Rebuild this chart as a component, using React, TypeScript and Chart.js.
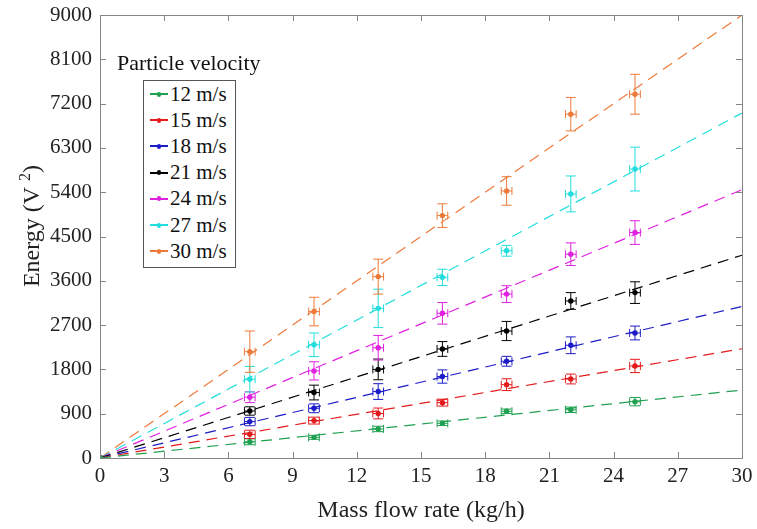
import React, { useEffect, useRef } from "react";
import { Chart, registerables } from "chart.js";

Chart.register(...registerables);

const massFlow = [7, 10, 13, 16, 19, 22, 25];
const velocities = ["12 m/s", "15 m/s", "18 m/s", "21 m/s", "24 m/s", "27 m/s", "30 m/s"];
const colors = ["#1fa050", "#e41a1c", "#1c1cc8", "#000000", "#e020e0", "#22dddd", "#ee7a3a"];

const e12 = [330, 420, 590, 705, 950, 980, 1145];
const e15 = [480, 760, 905, 1125, 1490, 1605, 1870];
const e18 = [740, 1010, 1350, 1655, 1965, 2290, 2540];
const e21 = [955, 1330, 1800, 2215, 2580, 3190, 3360];
const e24 = [1235, 1770, 2240, 2940, 3330, 4140, 4580];
const e27 = [1600, 2300, 3040, 3670, 4210, 5365, 5870];
const e30 = [2160, 2975, 3685, 4925, 5425, 6985, 7390];

const err12 = [60, 40, 55, 45, 45, 55, 85];
const err15 = [85, 70, 110, 70, 120, 100, 135];
const err18 = [85, 90, 160, 135, 100, 170, 140];
const err21 = [85, 150, 210, 150, 195, 170, 220];
const err24 = [110, 185, 250, 220, 170, 230, 240];
const err27 = [260, 240, 390, 165, 110, 365, 445];
const err30 = [420, 290, 355, 240, 290, 340, 405];

const xErr = 0.25;

const fitX = [0, 30];
const fitEnd = [1380, 2220, 3080, 4120, 5450, 7010, 9000];

const xTicks = [0, 3, 6, 9, 12, 15, 18, 21, 24, 27, 30];
const yTicks = [0, 900, 1800, 2700, 3600, 4500, 5400, 6300, 7200, 8100, 9000];

const yTitleMain = "Energy (V";
const yTitleSup = "2";
const yTitleEnd = ")";
const xTitle = "Mass flow rate (kg/h)";
const legendTitle = "Particle velocity";

const energies = [e12, e15, e18, e21, e24, e27, e30];
const errors = [err12, err15, err18, err21, err24, err27, err30];

const FONT = "'Liberation Serif', 'Times New Roman', serif";
const TEXT = "#222";

const errorBarPlugin = {
  id: "errorBars",
  afterDatasetsDraw(chart: any) {
    const ctx = chart.ctx;
    const xs = chart.scales.x;
    const ys = chart.scales.y;
    chart.data.datasets.forEach((ds: any, i: number) => {
      if (!ds.errY) return;
      ctx.save();
      ctx.strokeStyle = ds.borderColor;
      ctx.lineWidth = 1;
      ds.data.forEach((p: any, j: number) => {
        const e = ds.errY[j];
        const px = xs.getPixelForValue(p.x);
        const py = ys.getPixelForValue(p.y);
        const top = ys.getPixelForValue(p.y + e);
        const bot = ys.getPixelForValue(p.y - e);
        const xl = xs.getPixelForValue(p.x - ds.errX);
        const xr = xs.getPixelForValue(p.x + ds.errX);
        const cap = 5;
        const hcap = 4;
        ctx.beginPath();
        ctx.moveTo(px, top);
        ctx.lineTo(px, bot);
        ctx.moveTo(px - cap, top);
        ctx.lineTo(px + cap, top);
        ctx.moveTo(px - cap, bot);
        ctx.lineTo(px + cap, bot);
        ctx.moveTo(xl, py);
        ctx.lineTo(xr, py);
        ctx.moveTo(xl, py - hcap);
        ctx.lineTo(xl, py + hcap);
        ctx.moveTo(xr, py - hcap);
        ctx.lineTo(xr, py + hcap);
        ctx.stroke();
      });
      ctx.restore();
    });
  },
};

const framePlugin = {
  id: "frame",
  afterDraw(chart: any) {
    const ctx = chart.ctx;
    const { left, right, top, bottom } = chart.chartArea;
    const xs = chart.scales.x;
    const ys = chart.scales.y;
    ctx.save();
    ctx.strokeStyle = "#858585";
    ctx.lineWidth = 1;
    ctx.strokeRect(Math.round(left) + 0.5, Math.round(top) + 0.5, Math.round(right - left), Math.round(bottom - top));
    const tl = 6;
    ctx.beginPath();
    xTicks.forEach((v) => {
      const x = Math.round(xs.getPixelForValue(v)) + 0.5;
      ctx.moveTo(x, bottom);
      ctx.lineTo(x, bottom - tl);
      ctx.moveTo(x, top);
      ctx.lineTo(x, top + tl);
    });
    yTicks.forEach((v) => {
      const y = Math.round(ys.getPixelForValue(v)) + 0.5;
      ctx.moveTo(left, y);
      ctx.lineTo(left + tl, y);
      ctx.moveTo(right, y);
      ctx.lineTo(right - tl, y);
    });
    ctx.stroke();

    // y axis title with superscript
    const mainFont = `24px ${FONT}`;
    const supFont = `16px ${FONT}`;
    ctx.font = mainFont;
    const w1 = ctx.measureText(yTitleMain + " ").width;
    const w3 = ctx.measureText(yTitleEnd).width;
    ctx.font = supFont;
    const w2 = ctx.measureText(yTitleSup).width;
    const total = w1 + w2 + w3;
    const cx = 31;
    const cy = 226;
    ctx.translate(cx, cy);
    ctx.rotate(-Math.PI / 2);
    ctx.fillStyle = TEXT;
    ctx.textBaseline = "alphabetic";
    ctx.textAlign = "left";
    const base = 8;
    let x0 = -total / 2;
    ctx.font = mainFont;
    ctx.fillText(yTitleMain, x0, base);
    x0 += w1;
    ctx.font = supFont;
    ctx.fillText(yTitleSup, x0, base - 9);
    x0 += w2;
    ctx.font = mainFont;
    ctx.fillText(yTitleEnd, x0, base);
    ctx.restore();
  },
};

export default function App() {
  const ref = useRef<HTMLCanvasElement | null>(null);

  useEffect(() => {
    if (!ref.current) return;
    const datasets: any[] = [];
    velocities.forEach((label, i) => {
      datasets.push({
        type: "line",
        label: label + " fit",
        data: fitX.map((x) => ({ x, y: (fitEnd[i] * x) / 30 })),
        borderColor: colors[i],
        backgroundColor: colors[i],
        borderWidth: 1.2,
        borderDash: [11, 7],
        pointRadius: [3, 0],
        pointBorderWidth: 0,
        fill: false,
        order: 2,
      });
    });
    velocities.forEach((label, i) => {
      datasets.push({
        type: "scatter",
        label,
        data: massFlow.map((x, j) => ({ x, y: energies[i][j] })),
        errY: errors[i],
        errX: xErr,
        borderColor: colors[i],
        backgroundColor: colors[i],
        pointRadius: 2.7,
        pointBorderWidth: 0,
        order: 1,
      });
    });

    const chart = new Chart(ref.current, {
      type: "scatter",
      data: { datasets },
      plugins: [errorBarPlugin, framePlugin],
      options: {
        responsive: false,
        animation: false,
        layout: { padding: { left: 0, top: 15, right: 15, bottom: 0 } },
        plugins: {
          legend: { display: false },
          tooltip: { enabled: false },
        },
        scales: {
          x: {
            type: "linear",
            min: 0,
            max: 30,
            afterBuildTicks: (scale: any) => {
              scale.ticks = xTicks.map((v) => ({ value: v }));
            },
            afterFit: (scale: any) => {
              scale.height = 71;
              scale.paddingLeft = 0;
              scale.paddingRight = 0;
            },
            grid: { display: false, drawTicks: false },
            border: { display: false },
            ticks: {
              padding: 6,
              color: TEXT,
              font: { family: FONT, size: 21 },
              maxRotation: 0,
              autoSkip: false,
              callback: (v: any) => String(v),
            },
            title: {
              display: true,
              text: xTitle,
              color: TEXT,
              font: { family: FONT, size: 24 },
              padding: { top: 0, bottom: 4 },
            },
          },
          y: {
            type: "linear",
            min: 0,
            max: 9000,
            afterBuildTicks: (scale: any) => {
              scale.ticks = yTicks.map((v) => ({ value: v }));
            },
            afterFit: (scale: any) => {
              scale.width = 100;
              scale.paddingTop = 0;
              scale.paddingBottom = 0;
            },
            grid: { display: false, drawTicks: false },
            border: { display: false },
            ticks: {
              padding: 8,
              color: TEXT,
              font: { family: FONT, size: 21 },
              autoSkip: false,
              callback: (v: any) => String(v),
            },
            title: { display: false },
          },
        },
      } as any,
    });
    return () => chart.destroy();
  }, []);

  return (
    <div
      style={{
        position: "fixed",
        left: 0,
        top: 0,
        width: 757,
        height: 529,
        background: "#fff",
      }}
    >
      <canvas ref={ref} width={757} height={529} style={{ display: "block" }} />
      <div
        style={{
          position: "absolute",
          left: 117,
          top: 50,
          fontFamily: FONT,
          fontSize: 22,
          color: "#111",
          lineHeight: "26px",
          whiteSpace: "nowrap",
        }}
      >
        {legendTitle}
      </div>
      <div
        style={{
          position: "absolute",
          left: 143,
          top: 80,
          width: 93,
          height: 188,
          boxSizing: "border-box",
          border: "1px solid #555",
          background: "#fff",
        }}
      >
        {velocities.map((v, i) => (
          <div
            key={v}
            style={{
              position: "absolute",
              left: 6,
              top: i * 26.2,
              height: 26,
              display: "flex",
              alignItems: "center",
              fontFamily: FONT,
              fontSize: 21,
              color: "#111",
              whiteSpace: "nowrap",
            }}
          >
            <span
              style={{
                position: "relative",
                display: "inline-block",
                width: 18,
                height: 2,
                background: colors[i],
                marginRight: 2,
              }}
            >
              <span
                style={{
                  position: "absolute",
                  left: 7,
                  top: -1.5,
                  width: 4,
                  height: 5,
                  borderRadius: 2.5,
                  background: colors[i],
                }}
              />
            </span>
            {v}
          </div>
        ))}
      </div>
    </div>
  );
}
